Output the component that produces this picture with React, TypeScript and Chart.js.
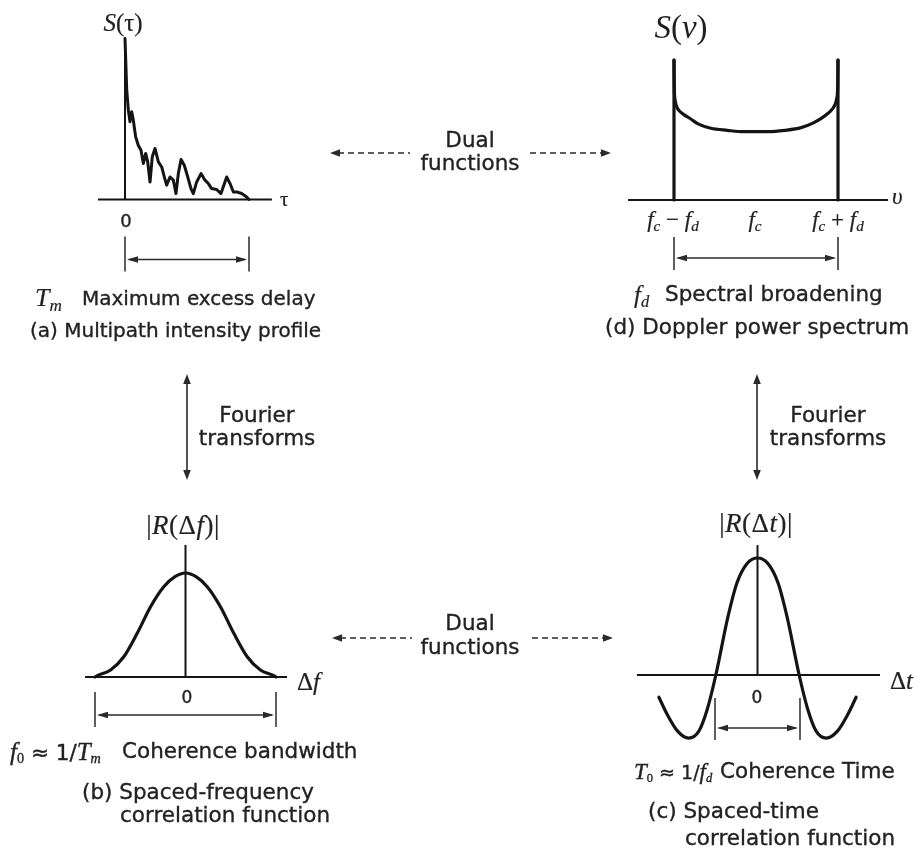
import React, { useEffect, useRef } from "react";
import { Chart, registerables } from "chart.js";

Chart.register(...registerables);

// ---------------- data ----------------
// (a) Multipath intensity profile: excess delay τ / T_m, power S(τ) relative to its peak
const delayTau = [0, 0.014, 0.027, 0.04, 0.054, 0.067, 0.086, 0.107, 0.129, 0.148, 0.167, 0.183, 0.202, 0.22, 0.242, 0.269, 0.296, 0.317, 0.336, 0.363, 0.39, 0.411, 0.43, 0.452, 0.478, 0.506, 0.532, 0.551, 0.578, 0.613, 0.645, 0.672, 0.699, 0.739, 0.774, 0.82, 0.847, 0.874, 0.901, 0.941, 0.981, 1.0];
const delayPower = [1.0, 0.679, 0.555, 0.483, 0.545, 0.493, 0.389, 0.337, 0.306, 0.224, 0.286, 0.234, 0.109, 0.265, 0.317, 0.234, 0.202, 0.14, 0.089, 0.14, 0.12, 0.037, 0.161, 0.248, 0.213, 0.14, 0.068, 0.037, 0.109, 0.161, 0.12, 0.099, 0.068, 0.062, 0.037, 0.14, 0.099, 0.047, 0.047, 0.037, 0.016, 0];
const maxExcessDelay = [0, 1]; // bracket T_m

// (d) Doppler power spectrum: (ν − f_c) / f_d, S(ν) relative to S(f_c)
const dopplerOffset = [-1, -0.996, -0.985, -0.965, -0.93, -0.88, -0.8, -0.7, -0.55, -0.35, -0.15, 0, 0.15, 0.35, 0.55, 0.7, 0.8, 0.88, 0.93, 0.965, 0.985, 0.996, 1];
const dopplerPower = [2.05, 1.62, 1.45, 1.36, 1.3, 1.25, 1.19, 1.11, 1.05, 1.02, 1.0, 1.0, 1.0, 1.02, 1.06, 1.13, 1.2, 1.27, 1.33, 1.4, 1.49, 1.65, 2.05];
const spectralBroadening = [-1, 1]; // bracket f_d

// (b) Spaced-frequency correlation: Δf / f_0, |R(Δf)|
const freqSep = [-0.5, -0.488, -0.414, -0.341, -0.267, -0.193, -0.12, -0.06, 0, 0.06, 0.12, 0.193, 0.267, 0.341, 0.414, 0.488, 0.5];
const freqCorr = [0, 0.013, 0.067, 0.195, 0.42, 0.676, 0.868, 0.962, 1, 0.962, 0.868, 0.676, 0.42, 0.195, 0.067, 0.013, 0];
const coherenceBandwidth = [-0.5, 0.5];

// (c) Spaced-time correlation: Δt / T_0, R(Δt)
const timeSep = [-1.16, -1.06, -0.94, -0.81, -0.69, -0.59, -0.49, -0.35, -0.24, -0.12, 0, 0.12, 0.24, 0.35, 0.49, 0.59, 0.69, 0.81, 0.94, 1.06, 1.16];
const timeCorr = [-0.19, -0.34, -0.48, -0.54, -0.48, -0.29, 0, 0.49, 0.79, 0.955, 1, 0.955, 0.79, 0.49, 0, -0.29, -0.48, -0.54, -0.48, -0.34, -0.19];
const coherenceTime = [-0.5, 0.5];

// ---------------- styles ----------------
const INK = "#141414";
const TEXT = "#222";
const SANS = '"DejaVu Sans", Verdana, sans-serif';
const SERIF = '"Liberation Serif", "DejaVu Serif", serif';

const pts = (xs: number[], ys: number[]) => xs.map((x, i) => ({ x, y: ys[i] }));

function arrowHead(ctx: CanvasRenderingContext2D, tx: number, ty: number, dx: number, dy: number, len = 10, half = 3.5) {
  const nx = -dy, ny = dx;
  ctx.beginPath();
  ctx.moveTo(tx, ty);
  ctx.lineTo(tx - dx * len + nx * half, ty - dy * len + ny * half);
  ctx.lineTo(tx - dx * len - nx * half, ty - dy * len - ny * half);
  ctx.closePath();
  ctx.fill();
}

const diagramPlugin = {
  id: "diagram",
  beforeDatasetsDraw(chart: any, _args: any, o: any) {
    const { ctx } = chart;
    const x = chart.scales.x, y = chart.scales.y;
    const line = (x1: number, y1: number, x2: number, y2: number) => {
      ctx.beginPath();
      ctx.moveTo(x1, y1);
      ctx.lineTo(x2, y2);
      ctx.stroke();
    };
    ctx.save();
    ctx.strokeStyle = INK;
    ctx.fillStyle = INK;
    ctx.lineWidth = 2;
    const base = y.getPixelForValue(0);
    if (o.axisX) line(x.getPixelForValue(o.axisX[0]), base, x.getPixelForValue(o.axisX[1]), base);
    if (o.axisY) {
      const px = x.getPixelForValue(0);
      line(px, y.getPixelForValue(o.axisY[0]), px, y.getPixelForValue(o.axisY[1]));
    }
    if (o.bracket) {
      const xa = x.getPixelForValue(o.bracket[0]);
      const xb = x.getPixelForValue(o.bracket[1]);
      ctx.lineWidth = 1.5;
      ctx.strokeStyle = "#2a2a2a";
      ctx.fillStyle = "#2a2a2a";
      line(xa, base + o.tick[0], xa, base + o.tick[1]);
      line(xb, base + o.tick[0], xb, base + o.tick[1]);
      const ay = base + o.arrowAt;
      line(xa + 4, ay, xb - 4, ay);
      arrowHead(ctx, xa + 2, ay, -1, 0, 11, 3.2);
      arrowHead(ctx, xb - 2, ay, 1, 0, 11, 3.2);
    }
    ctx.restore();
  },
};

type Box = { left: number; top: number; width: number; height: number };

function Panel({ box, origin, unit, datasets, diagram }: { box: Box; origin: { x: number; y: number }; unit: { x: number; y: number }; datasets: any[]; diagram: any }) {
  const ref = useRef<HTMLCanvasElement>(null);
  useEffect(() => {
    const xMin = (box.left - origin.x) / unit.x;
    const xMax = (box.left + box.width - origin.x) / unit.x;
    const yMax = (origin.y - box.top) / unit.y;
    const yMin = (origin.y - box.top - box.height) / unit.y;
    const chart = new Chart(ref.current as HTMLCanvasElement, {
      type: "line",
      data: { datasets },
      options: {
        responsive: false,
        maintainAspectRatio: false,
        animation: false,
        events: [],
        layout: { padding: 0 },
        scales: {
          x: { type: "linear", display: false, min: xMin, max: xMax },
          y: { type: "linear", display: false, min: yMin, max: yMax },
        },
        elements: {
          point: { radius: 0 },
          line: { borderColor: INK, borderWidth: 3.2, fill: false, borderJoinStyle: "round", borderCapStyle: "round" },
        },
        plugins: { legend: { display: false }, tooltip: { enabled: false }, diagram } as any,
      } as any,
      plugins: [diagramPlugin as any],
    });
    return () => chart.destroy();
  }, []);
  return (
    <canvas
      ref={ref}
      width={box.width}
      height={box.height}
      style={{ position: "absolute", left: box.left, top: box.top, width: box.width, height: box.height }}
    />
  );
}

function Txt({ x, y, size = 21.5, center = false, serif = false, italic = false, color = TEXT, stroke = 0.35, spacing = 0, children }: any) {
  return (
    <div
      style={{
        position: "absolute",
        left: x,
        top: y,
        transform: center ? "translate(-50%, -50%)" : "translateY(-50%)",
        fontFamily: serif ? SERIF : SANS,
        fontStyle: italic ? "italic" : "normal",
        fontSize: size,
        lineHeight: 1,
        whiteSpace: "nowrap",
        letterSpacing: spacing,
        color,
        WebkitTextStroke: `${stroke}px ${color}`,
      }}
    >
      {children}
    </div>
  );
}

const M = ({ children, size }: any) => <i style={{ fontFamily: SERIF, fontSize: size }}>{children}</i>;
const Sub = ({ children, italic = false }: any) => (
  <span style={{ fontSize: "0.66em", verticalAlign: "-0.28em", lineHeight: 0, fontFamily: SERIF, fontStyle: italic ? "italic" : "normal" }}>{children}</span>
);

function Arrows() {
  const dash = "6 4";
  const head = (tx: number, ty: number, dx: number, dy: number, len = 10, half = 3.8) => {
    const nx = -dy, ny = dx;
    return `${tx},${ty} ${tx - dx * len + nx * half},${ty - dy * len + ny * half} ${tx - dx * len - nx * half},${ty - dy * len - ny * half}`;
  };
  return (
    <svg width={917} height={850} style={{ position: "absolute", left: 0, top: 0, pointerEvents: "none" }}>
      <g stroke="#2a2a2a" strokeWidth={1.6} fill="none">
        <line x1={338} y1={153} x2={410} y2={153} strokeDasharray={dash} />
        <line x1={530} y1={153} x2={603} y2={153} strokeDasharray={dash} />
        <line x1={340} y1={638} x2={412} y2={638} strokeDasharray={dash} />
        <line x1={532} y1={638} x2={605} y2={638} strokeDasharray={dash} />
        <line x1={187} y1={382} x2={187} y2={472} />
        <line x1={757} y1={382} x2={757} y2={472} />
      </g>
      <g fill="#2a2a2a">
        <polygon points={head(330, 153, -1, 0)} />
        <polygon points={head(611, 153, 1, 0)} />
        <polygon points={head(332, 638, -1, 0)} />
        <polygon points={head(613, 638, 1, 0)} />
        <polygon points={head(187, 374, 0, -1)} />
        <polygon points={head(187, 480, 0, 1)} />
        <polygon points={head(757, 374, 0, -1)} />
        <polygon points={head(757, 480, 0, 1)} />
      </g>
    </svg>
  );
}

export default function App() {
  const dsA = [{ data: pts(delayTau, delayPower), tension: 0, borderWidth: 3 }];
  const dsD = [
    { data: pts(dopplerOffset, dopplerPower), cubicInterpolationMode: "monotone" },
    {
      data: [
        { x: spectralBroadening[0], y: 0 },
        { x: spectralBroadening[0], y: dopplerPower[0] },
        { x: 0, y: null },
        { x: spectralBroadening[1], y: dopplerPower[dopplerPower.length - 1] },
        { x: spectralBroadening[1], y: 0 },
      ],
      tension: 0,
    },
  ];
  const dsB = [{ data: pts(freqSep, freqCorr), cubicInterpolationMode: "monotone" }];
  const dsC = [{ data: pts(timeSep, timeCorr), cubicInterpolationMode: "monotone" }];

  return (
    <div style={{ position: "absolute", left: 0, top: 0, width: 917, height: 850, background: "#fff", overflow: "hidden" }}>
      <Panel
        box={{ left: 80, top: 25, width: 220, height: 260 }}
        origin={{ x: 125, y: 199.5 }}
        unit={{ x: 124, y: 161 }}
        datasets={dsA}
        diagram={{ axisX: [-0.218, 1.185], axisY: [0, 1.009], bracket: maxExcessDelay, tick: [37, 72], arrowAt: 60 }}
      />
      <Panel
        box={{ left: 615, top: 45, width: 290, height: 240 }}
        origin={{ x: 756, y: 200 }}
        unit={{ x: 82, y: 68.3 }}
        datasets={dsD}
        diagram={{ axisX: [-1.56, 1.61], bracket: spectralBroadening, tick: [37, 70], arrowAt: 58 }}
      />
      <Panel
        box={{ left: 70, top: 535, width: 235, height: 200 }}
        origin={{ x: 185.5, y: 677 }}
        unit={{ x: 181, y: 104 }}
        datasets={dsB}
        diagram={{ axisX: [-0.555, 0.561], axisY: [0, 1.27], bracket: coherenceBandwidth, tick: [15, 50], arrowAt: 38 }}
      />
      <Panel
        box={{ left: 625, top: 535, width: 270, height: 215 }}
        origin={{ x: 757.5, y: 675 }}
        unit={{ x: 85, y: 117 }}
        datasets={dsC}
        diagram={{ axisX: [-1.418, 1.441], axisY: [0, 1.11], bracket: coherenceTime, tick: [23, 65], arrowAt: 53 }}
      />
      <Arrows />

      {/* (a) */}
      <Txt x={123} y={22} size={25} serif center stroke={0.2}><M>S</M>(τ)</Txt>
      <Txt x={280} y={199} size={21} serif stroke={0.2}>τ</Txt>
      <Txt x={126} y={221} size={18} center>0</Txt>
      <Txt x={35} y={298} size={26} serif stroke={0.2}><M>T</M><Sub italic>m</Sub></Txt>
      <Txt x={82} y={298} size={20}>Maximum excess delay</Txt>
      <Txt x={30} y={330} size={20}>(a) Multipath intensity profile</Txt>

      {/* (d) */}
      <Txt x={681} y={27} size={33} serif center color="#1e1e1e" stroke={0}><M>S</M>(<M>v</M>)</Txt>
      <Txt x={892} y={196} size={23} serif italic stroke={0.2}>υ</Txt>
      <Txt x={673} y={219} size={23} serif center stroke={0.2}><M>f</M><Sub italic>c</Sub> − <M>f</M><Sub italic>d</Sub></Txt>
      <Txt x={755} y={219} size={23} serif center stroke={0.2}><M>f</M><Sub italic>c</Sub></Txt>
      <Txt x={838} y={219} size={23} serif center stroke={0.2}><M>f</M><Sub italic>c</Sub> + <M>f</M><Sub italic>d</Sub></Txt>
      <Txt x={634} y={294} size={25} serif stroke={0.2}><M>f</M><Sub italic>d</Sub></Txt>
      <Txt x={665} y={294} size={21.5}>Spectral broadening</Txt>
      <Txt x={605} y={327} size={21.5}>(d) Doppler power spectrum</Txt>

      {/* middle connectors */}
      <Txt x={470} y={140} center>Dual</Txt>
      <Txt x={470} y={163} center>functions</Txt>
      <Txt x={470} y={623} center>Dual</Txt>
      <Txt x={470} y={647} center>functions</Txt>
      <Txt x={257} y={415} center>Fourier</Txt>
      <Txt x={257} y={438} center>transforms</Txt>
      <Txt x={828} y={415} center>Fourier</Txt>
      <Txt x={828} y={438} center>transforms</Txt>

      {/* (b) */}
      <Txt x={183} y={525} size={27} serif center stroke={0.2} spacing={0.5}>|<M>R</M>(Δ<M>f</M>)|</Txt>
      <Txt x={297} y={681} size={25} serif stroke={0.2}>Δ<M>f</M></Txt>
      <Txt x={187} y={697} size={17} center>0</Txt>
      <Txt x={10} y={751} size={21.5}><M size={25}>f</M><Sub>0</Sub> ≈ 1/<M size={25}>T</M><Sub italic>m</Sub></Txt>
      <Txt x={122} y={751} size={21.5}>Coherence bandwidth</Txt>
      <Txt x={82} y={792} size={21.5}>(b) Spaced-frequency</Txt>
      <Txt x={120} y={815} size={21.5}>correlation function</Txt>

      {/* (c) */}
      <Txt x={756} y={523} size={27} serif center stroke={0.2} spacing={0.5}>|<M>R</M>(Δ<M>t</M>)|</Txt>
      <Txt x={890} y={680} size={25} serif stroke={0.2}>Δ<M>t</M></Txt>
      <Txt x={757} y={697} size={17} center>0</Txt>
      <Txt x={634} y={771} size={19}><M size={23}>T</M><Sub>0</Sub> ≈ 1/<M size={23}>f</M><Sub italic>d</Sub></Txt>
      <Txt x={720} y={771} size={21.5}>Coherence Time</Txt>
      <Txt x={648} y={811} size={21.5}>(c) Spaced-time</Txt>
      <Txt x={685} y={838} size={21.5}>correlation function</Txt>
    </div>
  );
}
